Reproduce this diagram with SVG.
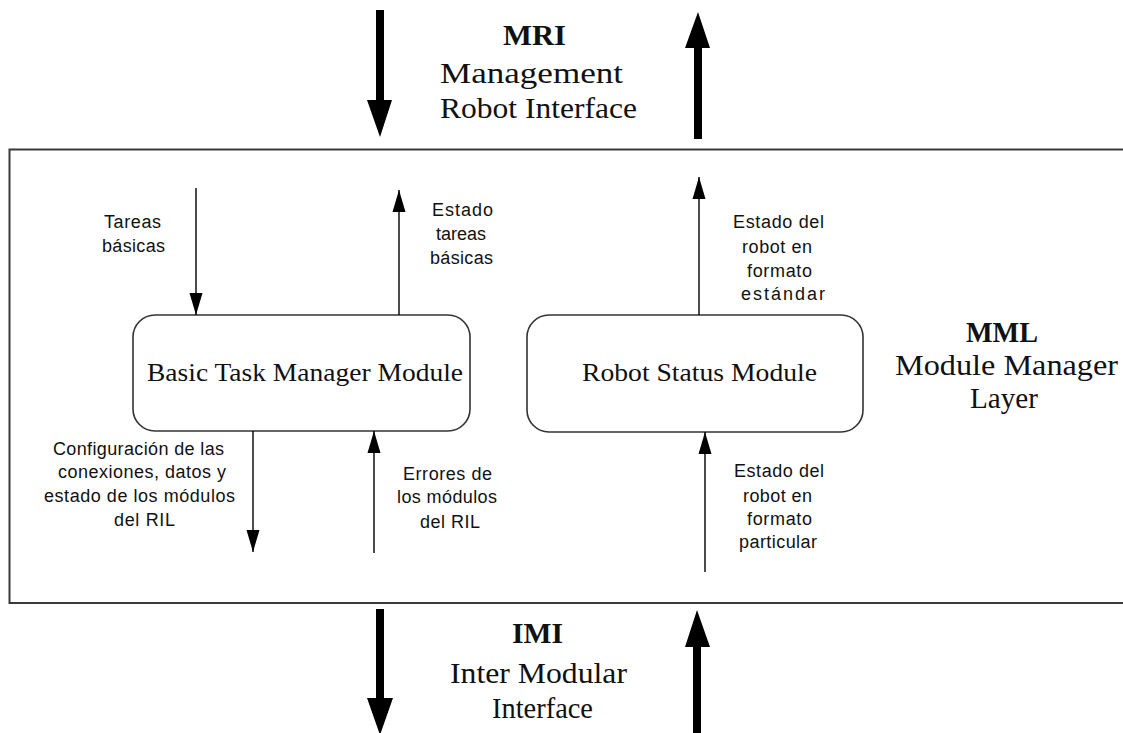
<svg xmlns="http://www.w3.org/2000/svg" width="1123" height="733" viewBox="0 0 1123 733">
  <defs>
    <style>
      .frame { fill: none; stroke: #3a3a3a; stroke-width: 2; }
      .module { fill: #ffffff; stroke: #333333; stroke-width: 1.6; }
      .link { fill: none; stroke: #000000; stroke-width: 1.4; }
      .bus { fill: #000000; stroke: none; }
      .serif { font-family: "Liberation Serif", "Times New Roman", serif; fill: #111111; }
      .big { font-size: 30px; }
      .bold { font-weight: bold; }
      .mod { font-size: 25px; }
      .sans { font-family: "Liberation Sans", Arial, sans-serif; font-size: 18px; fill: #111111; }
    </style>
    <marker id="tip" viewBox="0 0 22 14" refX="22" refY="7" markerWidth="22" markerHeight="14" markerUnits="userSpaceOnUse" orient="auto">
      <path d="M0,0.5 L22,7 L0,13.5 Z" fill="#000000"/>
    </marker>
  </defs>

  <rect width="1123" height="733" fill="#ffffff"/>

  <!-- Module Manager Layer frame (open to the right) -->
  <path id="layer-frame" class="frame" d="M1130,149.5 L9.5,149.5 L9.5,603 L1130,603"/>

  <!-- Interface buses above and below the layer -->
  <g id="buses">
    <path class="bus" d="M376,10 L384,10 L384,100 L392,100 L380,137 L367,100 L376,100 Z"/>
    <path class="bus" d="M694,139 L702,139 L702,48 L710,48 L698,12 L685,48 L694,48 Z"/>
    <path class="bus" d="M376,609 L384,609 L384,698 L393,698 L380,735 L367,698 L376,698 Z"/>
    <path class="bus" d="M693,735 L701,735 L701,647 L710,647 L697,610 L685,647 L693,647 Z"/>
  </g>

  <!-- Interface labels -->
  <g id="label-mri">
    <text class="serif big bold" x="503" y="45" textLength="63" lengthAdjust="spacingAndGlyphs">MRI</text>
    <text class="serif big" x="440" y="83" textLength="183" lengthAdjust="spacingAndGlyphs">Management</text>
    <text class="serif big" x="440" y="118" textLength="197" lengthAdjust="spacingAndGlyphs">Robot Interface</text>
  </g>
  <g id="label-imi">
    <text class="serif big bold" x="512" y="643" textLength="51" lengthAdjust="spacingAndGlyphs">IMI</text>
    <text class="serif big" x="450" y="683" textLength="177" lengthAdjust="spacingAndGlyphs">Inter Modular</text>
    <text class="serif big" x="492" y="718" textLength="101" lengthAdjust="spacingAndGlyphs">Interface</text>
  </g>
  <g id="label-mml">
    <text class="serif big bold" x="966" y="342" textLength="72" lengthAdjust="spacingAndGlyphs">MML</text>
    <text class="serif big" x="895" y="375" textLength="223" lengthAdjust="spacingAndGlyphs">Module Manager</text>
    <text class="serif big" x="970" y="408" textLength="68" lengthAdjust="spacingAndGlyphs">Layer</text>
  </g>

  <!-- Modules -->
  <g id="basic-task-manager">
    <rect class="module" x="133" y="315" width="337" height="116" rx="22" ry="22"/>
    <text class="serif mod" x="147" y="381" textLength="316" lengthAdjust="spacingAndGlyphs">Basic Task Manager Module</text>
  </g>
  <g id="robot-status">
    <rect class="module" x="527" y="315" width="336" height="117" rx="22" ry="22"/>
    <text class="serif mod" x="582" y="381" textLength="235" lengthAdjust="spacingAndGlyphs">Robot Status Module</text>
  </g>

  <!-- Data flows -->
  <g id="connectors">
    <line class="link" x1="196" y1="188" x2="196" y2="315" marker-end="url(#tip)"/>
    <line class="link" x1="399" y1="315" x2="399" y2="190" marker-end="url(#tip)"/>
    <line class="link" x1="699" y1="315" x2="699" y2="177" marker-end="url(#tip)"/>
    <line class="link" x1="253" y1="431" x2="253" y2="552" marker-end="url(#tip)"/>
    <line class="link" x1="374" y1="553" x2="374" y2="431" marker-end="url(#tip)"/>
    <line class="link" x1="705" y1="572" x2="705" y2="432" marker-end="url(#tip)"/>
  </g>

  <!-- Flow labels -->
  <g id="flow-labels">
    <text class="sans" x="104" y="228" textLength="57">Tareas</text>
    <text class="sans" x="102" y="252" textLength="63">básicas</text>

    <text class="sans" x="432" y="216" textLength="61">Estado</text>
    <text class="sans" x="436" y="240" textLength="50">tareas</text>
    <text class="sans" x="430" y="264" textLength="63">básicas</text>

    <text class="sans" x="733" y="228" textLength="91">Estado del</text>
    <text class="sans" x="742" y="253" textLength="70">robot en</text>
    <text class="sans" x="747" y="277" textLength="65">formato</text>
    <text class="sans" x="741" y="300" textLength="84">estándar</text>

    <text class="sans" x="53" y="455" textLength="171">Configuración de las</text>
    <text class="sans" x="58" y="478" textLength="168">conexiones, datos y</text>
    <text class="sans" x="44" y="502" textLength="191">estado de los módulos</text>
    <text class="sans" x="114" y="526" textLength="61">del RIL</text>

    <text class="sans" x="403" y="480" textLength="89">Errores de</text>
    <text class="sans" x="397" y="503" textLength="100">los módulos</text>
    <text class="sans" x="420" y="528" textLength="60">del RIL</text>

    <text class="sans" x="734" y="477" textLength="90">Estado del</text>
    <text class="sans" x="743" y="502" textLength="69">robot en</text>
    <text class="sans" x="747" y="525" textLength="65">formato</text>
    <text class="sans" x="739" y="548" textLength="78">particular</text>
  </g>
</svg>
